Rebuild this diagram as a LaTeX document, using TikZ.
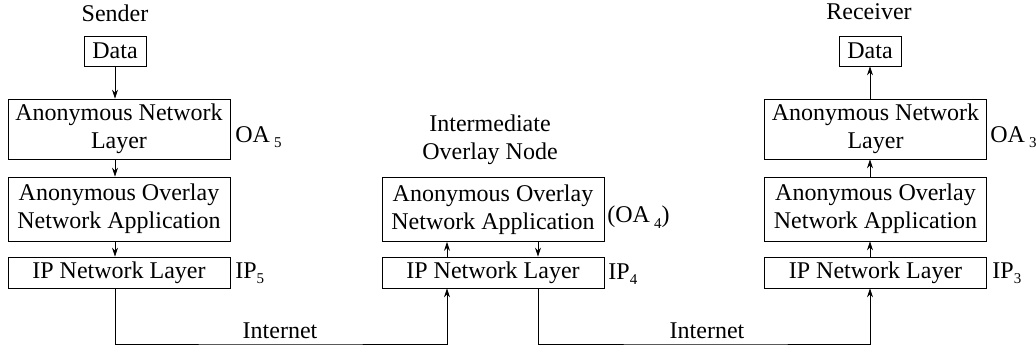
\documentclass[tikz,border=0pt]{standalone}
\usepackage{fontspec}
\setmainfont{Liberation Serif}
\usetikzlibrary{arrows.meta}
\newcommand{\lowidx}[1]{\raisebox{-0.5ex}{\fontsize{7.5}{8}\selectfont #1}}

\begin{document}
\begin{tikzpicture}[x=0.5pt, y=-0.5pt,
	every node/.style={font=\fontsize{12}{14}\selectfont},
	layerbox/.style={draw, minimum width=111pt, align=center, inner sep=1pt},
	databox/.style={draw, minimum width=31pt, minimum height=15pt, inner sep=1pt},
	tag/.style={anchor=west, inner sep=1pt},
	flow/.style={-{Stealth[length=4.5pt, width=3pt]}}]
			%%%%% START %%%%%
			\useasboundingbox (0,0) rectangle (1036,347);
			
			% sender
			\node (sender) at (115, 13) {Sender};
			\node[databox] (data1) at (115, 51) {Data};
			\node[layerbox, minimum height=30pt] (anl1) at (119, 129) {Anonymous Network\\Layer};
			\node[layerbox, minimum height=32pt] (aoa1) at (119, 209) {Anonymous Overlay\\Network Application};
			\node[layerbox, minimum height=15.5pt] (ip1) at (119, 272.5) {IP Network Layer};
			\node[tag] (oa5) at (233, 137) {OA\,\lowidx{5}};
			\node[tag] (ipfive) at (233, 273) {IP\lowidx{5}};
			
			\draw[flow] (data1.south) -- (data1.south |- anl1.north);
			\draw[flow] (data1.south |- anl1.south) -- (data1.south |- aoa1.north);
			\draw[flow] (data1.south |- aoa1.south) -- (data1.south |- ip1.north);
			
			% intermediate
			\node[align=center] (inter) at (490, 140) {Intermediate\\Overlay Node};
			\node[layerbox, minimum height=32pt] (aoa2) at (493, 209.5) {Anonymous Overlay\\Network Application};
			\node[layerbox, minimum height=15.5pt] (ip2) at (493, 272.5) {IP Network Layer};
			\node[tag] (oa4) at (605, 217) {(OA\,\lowidx{4})};
			\node[tag] (ipfour) at (606, 274) {IP\lowidx{4}};
			\coordinate (up2) at (447, 289);
			\coordinate (down2) at (538, 289);
			
			\draw[flow] (up2 |- ip2.north) -- (up2 |- aoa2.south);
			\draw[flow] (down2 |- aoa2.south) -- (down2 |- ip2.north);
			
			% receiver
			\node (receiver) at (869, 12) {Receiver};
			\node[databox] (data3) at (870, 51) {Data};
			\node[layerbox, minimum height=30pt] (anl3) at (875.5, 129) {Anonymous Network\\Layer};
			\node[layerbox, minimum height=32pt] (aoa3) at (875.5, 209) {Anonymous Overlay\\Network Application};
			\node[layerbox, minimum height=15.5pt] (ip3) at (875.5, 272.5) {IP Network Layer};
			\node[tag] (oa3) at (988, 137) {OA\,\lowidx{3}};
			\node[tag] (ipthree) at (990, 273) {IP\lowidx{3}};
			
			\draw[flow] (data3.south |- ip3.north) -- (data3.south |- aoa3.south);
			\draw[flow] (data3.south |- aoa3.north) -- (data3.south |- anl3.south);
			\draw[flow] (data3.south |- anl3.north) -- (data3.south);
			
			% internet links
			\coordinate (net1) at (280, 344);
			\coordinate (net2) at (707, 344);
			\node[anchor=base] (inet1) at (280, 338) {Internet};
			\node[anchor=base] (inet2) at (707, 338) {Internet};
			
			\draw[flow] (data1.south |- ip1.south) |- (net1) -| (up2 |- ip2.south);
			\draw[flow] (down2 |- ip2.south) |- (net2) -| (data3.south |- ip3.south);
			
			%%%%% END %%%%%
\end{tikzpicture}
\end{document}
